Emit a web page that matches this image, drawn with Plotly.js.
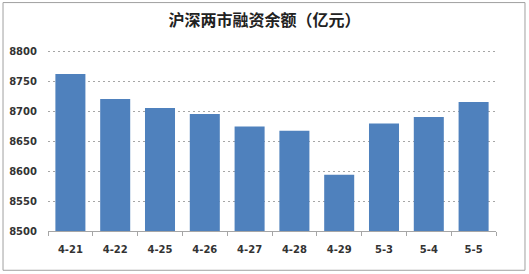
<!DOCTYPE html>
<html><head><meta charset="utf-8">
<script src="https://cdn.plot.ly/plotly-3.0.1.min.js"></script>
<style>html,body{margin:0;padding:0;background:#fff;}#chart{width:529px;height:274px;}</style>
</head><body><div id="chart"></div>
<script>
const categories = ["4-21","4-22","4-25","4-26","4-27","4-28","4-29","5-3","5-4","5-5"];
const balances = [8763, 8721, 8706, 8696, 8675, 8668, 8594, 8680, 8691, 8716];
const yTicks = [8500, 8550, 8600, 8650, 8700, 8750, 8800];
const titleText = "沪深两市融资余额（亿元）";

const trace = {
  type: "bar",
  x: categories,
  y: balances,
  marker: {color: "#4f81bd"},
  hoverinfo: "x+y"
};
const layout = {
  width: 529, height: 274,
  margin: {l: 48, r: 33, t: 50, b: 43},
  paper_bgcolor: "#fff", plot_bgcolor: "#fff",
  bargap: 0.33,
  showlegend: false,
  title: {text: "<b>" + titleText + "</b>", x: 0.5, xanchor: "center", y: 0.925, yanchor: "middle",
          font: {family: "Noto Sans CJK SC, sans-serif", size: 16, color: "#222"}},
  font: {family: "Noto Sans CJK SC, sans-serif"},
  xaxis: {
    type: "category",
    showline: true, linecolor: "#a6a6a6", linewidth: 1,
    ticks: "outside", tickson: "boundaries", ticklen: 4, tickcolor: "#a6a6a6",
    tickfont: {family: "DejaVu Sans, sans-serif", size: 10, color: "#333", weight: "bold"},
    ticklabelstandoff: 9,
    showgrid: false, zeroline: false, fixedrange: true
  },
  yaxis: {
    range: [8500, 8803], tickvals: yTicks, ticktext: yTicks.map(String),
    showgrid: true, gridcolor: "#a6a6a6", griddash: "2px,3px", gridwidth: 1,
    showline: false, zeroline: false, ticks: "",
    tickfont: {family: "DejaVu Sans, sans-serif", size: 10, color: "#333", weight: "bold"},
    ticklabelstandoff: 10, fixedrange: true
  },
  shapes: [{
    type: "rect", xref: "paper", yref: "paper",
    x0: -0.1004, x1: 1.0647, y0: -0.217, y1: 1.262,
    line: {color: "#a0a0a0", width: 1}, layer: "below"
  }]
};
Plotly.newPlot("chart", [trace], layout, {displayModeBar: false, staticPlot: true});
</script></body></html>
